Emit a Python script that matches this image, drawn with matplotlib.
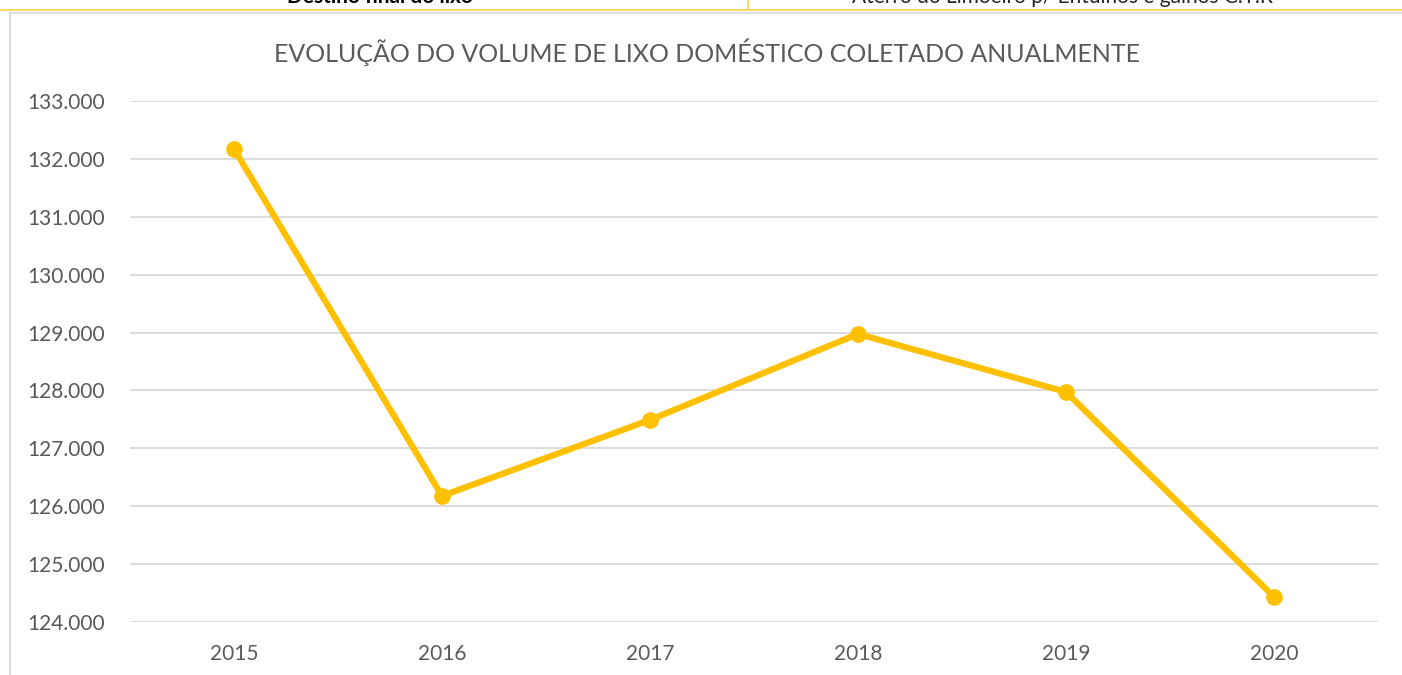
import matplotlib.pyplot as plt
from matplotlib.lines import Line2D
from matplotlib.ticker import FuncFormatter

plt.rcParams['font.family'] = ['Lato', 'DejaVu Sans']

anos = ['2015', '2016', '2017', '2018', '2019', '2020']
volume = [132171, 126178, 127491, 128976, 127974, 124434]
titulo = 'EVOLUÇÃO DO VOLUME DE LIXO DOMÉSTICO COLETADO ANUALMENTE'
tabela = ['Destino final do lixo', 'Aterro do Limoeiro p/ Entulhos e galhos C.T.R']

fig = plt.figure(figsize=(14.02, 6.75), dpi=100)
ax = fig.add_axes([130/1402, 1 - 622/675, 1248/1402, 521/675])

x = list(range(len(anos)))
ax.plot(x, volume, color='#FFC000', lw=4.5, marker='o', ms=11, solid_capstyle='round')
ax.set_xlim(-0.5, len(anos) - 0.5)
ax.set_ylim(124000, 133000)
ax.set_yticks(range(124000, 133001, 1000))
ax.yaxis.set_major_formatter(FuncFormatter(lambda v, p: f'{v:,.0f}'.replace(',', '.')))
ax.set_xticks(x)
ax.set_xticklabels(anos)
ax.grid(axis='y', color='#D9D9D9', lw=1.3)
ax.set_axisbelow(True)
for s in ax.spines.values():
    s.set_visible(False)
ax.tick_params(length=0, colors='#595959', labelsize=15)
ax.tick_params(axis='y', pad=18)
ax.tick_params(axis='x', pad=16)

fig.text(707/1402, 1 - 52/675, titulo, ha='center', va='center', fontsize=18,
         color='#595959')

# restos da tabela acima do grafico
fig.add_artist(Line2D([0, 1], [1 - 10/675, 1 - 10/675], color='#FFD966', lw=1.5))
fig.add_artist(Line2D([748/1402, 748/1402], [1 - 10/675, 1], color='#FFD966', lw=1.5))
fig.add_artist(Line2D([10/1402, 1], [1 - 13/675, 1 - 13/675], color='#D9D9D9', lw=1.2))
fig.add_artist(Line2D([10/1402, 10/1402], [0, 1 - 13/675], color='#D9D9D9', lw=1.5))
fig.text(380/1402, 1 - 3/675, tabela[0], ha='center', va='baseline', fontsize=15,
         fontweight='bold', color='black')
fig.text(1062/1402, 1 - 3/675, tabela[1], ha='center', va='baseline', fontsize=15,
         color='#262626')

fig.savefig('out.png', dpi=100)
